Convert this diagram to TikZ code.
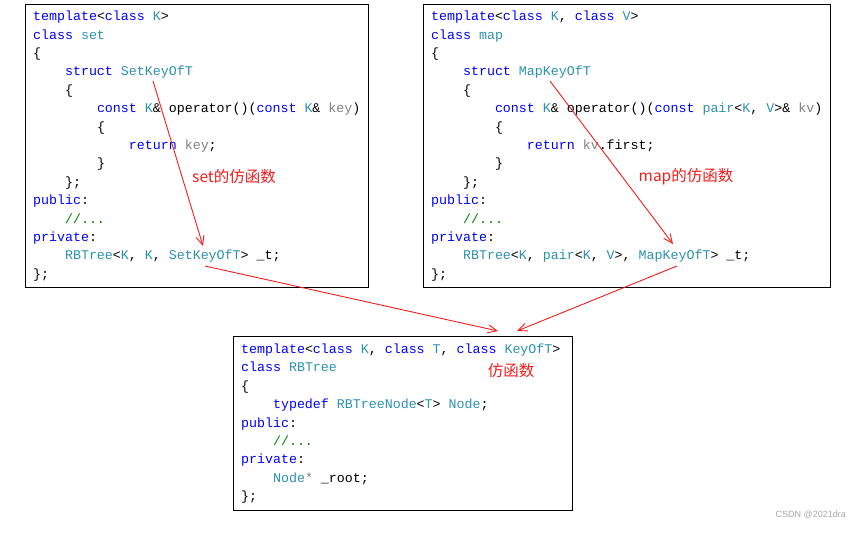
\documentclass[tikz,border=0pt]{standalone}
\usepackage{fontspec}
\setmonofont[WordSpace={1,0,0}]{Liberation Mono}
\setsansfont{Liberation Sans}
\newfontfamily\cjk{Noto Sans CJK SC}
\usetikzlibrary{arrows.meta}

\definecolor{kwblue}{RGB}{0,0,255}
\definecolor{tyteal}{RGB}{43,145,175}
\definecolor{pargray}{RGB}{128,128,128}
\definecolor{cmtgreen}{RGB}{0,128,0}
\definecolor{annred}{RGB}{240,30,30}

\newcommand{\ckw}[1]{\textcolor{kwblue}{#1}}
\newcommand{\cty}[1]{\textcolor{tyteal}{#1}}
\newcommand{\cpar}[1]{\textcolor{pargray}{#1}}
\newcommand{\ccmt}[1]{\textcolor{cmtgreen}{#1}}
\newcommand{\indt}{\hphantom{xxxx}}
\newcommand{\monosp}{\spaceskip=0pt\xspaceskip=0pt\relax}

\tikzset{
  codebox/.style={draw=black,line width=1.3pt,anchor=north west,align=left,
    inner xsep=7.5pt,inner ysep=0pt,font=\fontsize{13.3}{18.4}\selectfont\ttfamily},
  redarrow/.style={draw=annred,line width=0.9pt,-{Straight Barb[length=9pt,width=8pt]}},
  redlabel/.style={text=annred,inner sep=0pt,font=\cjk\fontsize{15.5}{18}\selectfont}
}

\begin{document}
\begin{tikzpicture}[x=1pt,y=-1pt]
\path[use as bounding box] (0,0) rectangle (850,532);
% class set
\node[codebox,text width=328pt,minimum height=283pt] (setbox) at (25,4) {\monosp
\ckw{template}<\ckw{class} \cty{K}>\\
\ckw{class} \cty{set}\\
\{\\
\indt\ckw{struct} \cty{SetKeyOfT}\\
\indt\{\\
\indt\indt\ckw{const} \cty{K}\& operator()(\ckw{const} \cty{K}\& \cpar{key})\\
\indt\indt\{\\
\indt\indt\indt\ckw{return} \cpar{key};\\
\indt\indt\}\\
\indt\};\\
\ckw{public}:\\
\indt\ccmt{//...}\\
\ckw{private}:\\
\indt\cty{RBTree}<\cty{K}, \cty{K}, \cty{SetKeyOfT}> \_t;\\
\};};
% class map
\node[codebox,text width=392pt,minimum height=283pt] (mapbox) at (423,4) {\monosp
\ckw{template}<\ckw{class} \cty{K}, \ckw{class} \cty{V}>\\
\ckw{class} \cty{map}\\
\{\\
\indt\ckw{struct} \cty{MapKeyOfT}\\
\indt\{\\
\indt\indt\ckw{const} \cty{K}\& operator()(\ckw{const} \cty{pair}<\cty{K}, \cty{V}>\& \cpar{kv})\\
\indt\indt\{\\
\indt\indt\indt\ckw{return} \cpar{kv}.first;\\
\indt\indt\}\\
\indt\};\\
\ckw{public}:\\
\indt\ccmt{//...}\\
\ckw{private}:\\
\indt\cty{RBTree}<\cty{K}, \cty{pair}<\cty{K}, \cty{V}>, \cty{MapKeyOfT}> \_t;\\
\};};
% class RBTree
\node[codebox,text width=324pt,minimum height=174pt] (treebox) at (233,336) {\monosp
\ckw{template}<\ckw{class} \cty{K}, \ckw{class} \cty{T}, \ckw{class} \cty{KeyOfT}>\\
\ckw{class} \cty{RBTree}\\
\{\\
\indt\ckw{typedef} \cty{RBTreeNode}<\cty{T}> \cty{Node};\\
\ckw{public}:\\
\indt\ccmt{//...}\\
\ckw{private}:\\
\indt\cty{Node}\cpar{*} \_root;\\
\};};

% arrow ends
\coordinate (setfunctor) at (153,81);
\coordinate (setarg) at (203,246);
\coordinate (settree) at (205,266);
\coordinate (mapfunctor) at (550,81);
\coordinate (maparg) at (673,244);
\coordinate (maptree) at (677,266);
\coordinate (treein1) at (498,331);
\coordinate (treein2) at (517,331);

\draw[redarrow] (setfunctor) -- (setarg);
\draw[redarrow] (mapfunctor) -- (maparg);
\draw[redarrow] (settree) -- (treein1);
\draw[redarrow] (maptree) -- (treein2);

\node[redlabel] (setlabel) at (234,177) {set的仿函数};
\node[redlabel] (maplabel) at (686,177) {map的仿函数};
\node[redlabel] (treelabel) at (511,371) {仿函数};

\node[anchor=east,inner sep=0pt,text=black!35,font=\sffamily\fontsize{9}{10}\selectfont] (mark) at (846,515) {CSDN @2021dra};
\end{tikzpicture}
\end{document}
